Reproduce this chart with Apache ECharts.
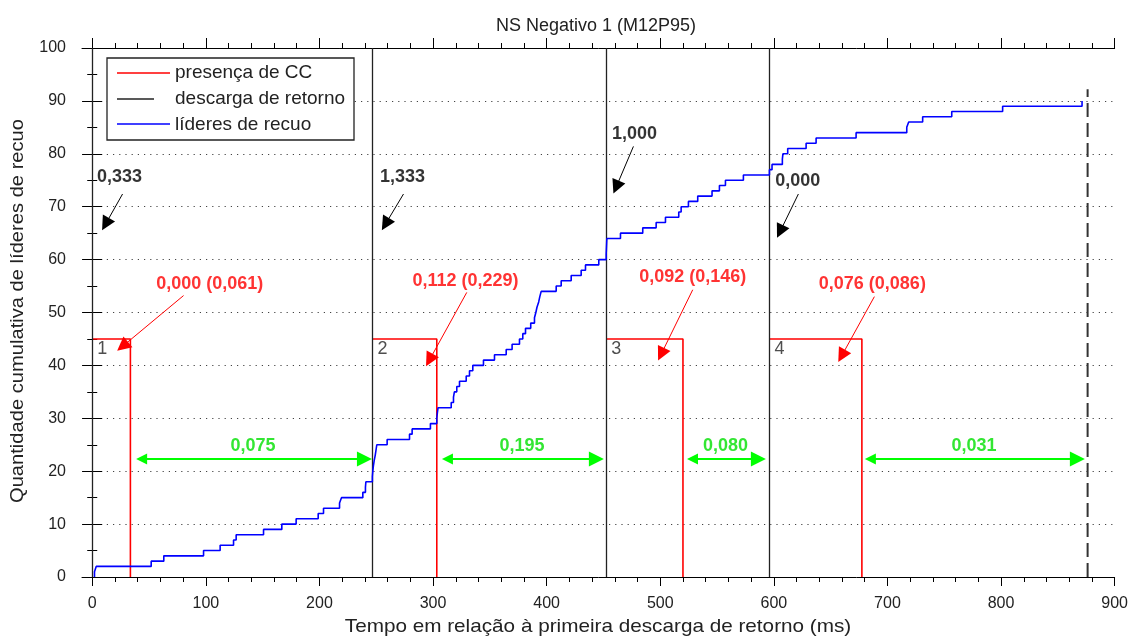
<!DOCTYPE html>
<html><head><meta charset="utf-8">
<script src="https://cdn.jsdelivr.net/npm/echarts@6/dist/echarts.min.js"></script>
<style>html,body{margin:0;padding:0;background:#fff}#c{width:1131px;height:637px}</style>
</head><body><div id="c"></div>
<script>
const chartTitle = 'NS Negativo 1 (M12P95)';
const xAxisTitle = 'Tempo em relação à primeira descarga de retorno (ms)';
const yAxisTitle = 'Quantidade cumulativa de líderes de recuo';
const legendNames = ['presença de CC', 'descarga de retorno', 'líderes de recuo'];

const xMajorTicks = [0, 100, 200, 300, 400, 500, 600, 700, 800, 900];
const xMinorTicks = [20, 40, 60, 80, 120, 140, 160, 180, 220, 240, 260, 280, 320, 340, 360, 380,
  420, 440, 460, 480, 520, 540, 560, 580, 620, 640, 660, 680, 720, 740, 760, 780, 820, 840, 860, 880];

// líderes de recuo: step times (ms) and cumulative counts
const leaderTimes = [2.0, 2.0, 3.5, 51.9, 63.0, 98.0, 112.6, 124.4, 126.7, 150.8,
  166.9, 179.5, 198.9, 203.6, 217.7, 219.4, 238.2, 240.5, 240.9, 246.6,
  247.0, 247.5, 248.2, 249.1, 249.8, 250.5, 259.6, 279.3, 281.6, 297.7,
  303.3, 303.8, 304.4, 316.0, 318.0, 318.8, 320.9, 323.3, 329.2, 332.1,
  335.0, 344.4, 354.1, 364.4, 369.6, 376.1, 379.0, 381.4, 386.0, 389.3,
  390.5, 391.5, 393.0, 394.0, 395.2, 408.4, 412.8, 421.6, 430.4, 434.2,
  445.9, 452.4, 452.6, 452.8, 453.0, 465.0, 484.6, 496.4, 504.6, 516.3,
  518.4, 524.8, 533.0, 545.6, 552.1, 557.4, 573.2, 596.1, 598.4, 607.5,
  608.0, 612.2, 628.4, 637.2, 672.4, 717.0, 718.7, 731.0, 756.6, 801.4,
  871.3];
const leaderCounts = [0, 1, 2, 3, 4, 5, 6, 7, 8, 9,
  10, 11, 12, 13, 14, 15, 16, 17, 18, 19,
  20, 21, 22, 23, 24, 25, 26, 27, 28, 29,
  30, 31, 32, 33, 34, 35, 36, 37, 38, 39,
  40, 41, 42, 43, 44, 45, 46, 47, 48, 49,
  50, 51, 52, 53, 54, 55, 56, 57, 58, 59,
  60, 61, 62, 63, 64, 65, 66, 67, 68, 69,
  70, 71, 72, 73, 74, 75, 76, 77, 78, 79,
  80, 81, 82, 83, 84, 85, 86, 87, 88, 89,
  90];

// descargas de retorno (ms)
const strokeTimes = [0, 246.6, 452.4, 596.1];
const strokeNumbers = ['1', '2', '3', '4'];
// presença de CC: end of CC for each stroke
const ccEndTimes = [33.6, 303.3, 520.0, 677.5];
const ccLevel = 45;
// final (dashed) marker
const endTime = 876.2;
const endTop = 92.2;

// green intervals
const intervalLabels = ['0,075', '0,195', '0,080', '0,031'];
const intervalFrom = [43.5, 312.7, 528.4, 685.0];
const intervalTo = [239.6, 443.8, 586.4, 867.2];
const intervalArrowY = 22.3;
const intervalLabelY = 24.8;

// red annotations
const ccLabels = ['0,000 (0,061)', '0,112 (0,229)', '0,092 (0,146)', '0,076 (0,086)'];
const ccLabelPos = [[103.4, 55.4], [328.6, 55.9], [528.6, 56.7], [686.7, 55.4]];
const ccArrowTail = [[80.4, 53.2], [329.7, 53.8], [528.6, 54.3], [688.5, 53.0]];
const ccArrowHead = [[26.7, 43.6], [296.8, 41.0], [500.8, 42.1], [659.7, 41.8]];

// black annotations
const rateLabels = ['0,333', '1,333', '1,000', '0,000'];
const rateLabelPos = [[24.0, 75.6], [273.1, 75.6], [477.3, 83.7], [621.0, 74.9]];
const rateArrowTail = [[26.7, 72.4], [274.0, 72.4], [476.4, 81.4], [621.6, 72.4]];
const rateArrowHead = [[11.7, 66.7], [258.1, 66.7], [461.2, 73.7], [605.5, 65.3]];

const FONT = '"Liberation Sans", Arial, Helvetica, sans-serif';
const X_MIN = -9, X_MAX = 900;

const chart = echarts.init(document.getElementById('c'), null, {renderer: 'canvas'});

const series = [];
// red CC boxes
strokeTimes.forEach((t, i) => {
  series.push({
    type: 'line', xAxisIndex: 0, yAxisIndex: 0, symbol: 'none', silent: true, z: 3,
    lineStyle: {color: '#ff0000', width: 1.6},
    data: [[t, ccLevel], [ccEndTimes[i], ccLevel], [ccEndTimes[i], 0]]
  });
});
// black stroke lines + dashed end marker
series.push({
  type: 'line', xAxisIndex: 0, yAxisIndex: 0, symbol: 'none', silent: true, z: 4,
  lineStyle: {color: '#333', width: 2, type: [14, 6]},
  data: [[endTime, 0], [endTime, endTop]],
  markLine: {
    silent: true, symbol: ['none', 'none'], animation: false,
    label: {show: false},
    lineStyle: {color: '#222', width: 1.3, type: 'solid'},
    data: strokeTimes.map(t => ({xAxis: t}))
  }
});
// blue step line
series.push({
  type: 'line', xAxisIndex: 0, yAxisIndex: 0, symbol: 'none', step: 'end', silent: true, z: 5,
  lineStyle: {color: '#0000ff', width: 1.6},
  data: leaderTimes.map((t, i) => [t, leaderCounts[i]])
});
// green interval arrows
series.push({
  type: 'lines', coordinateSystem: 'cartesian2d', xAxisIndex: 0, yAxisIndex: 0, silent: true, z: 6,
  symbol: ['triangle', 'triangle'], symbolSize: [11, 15],
  lineStyle: {color: '#00ff00', width: 2, opacity: 1},
  data: intervalFrom.map((f, i) => ({coords: [[f, intervalArrowY], [intervalTo[i], intervalArrowY]]}))
});
// red annotation arrows
series.push({
  type: 'lines', coordinateSystem: 'cartesian2d', xAxisIndex: 0, yAxisIndex: 0, silent: true, z: 6,
  symbol: ['none', 'triangle'], symbolSize: [10, 14],
  lineStyle: {color: '#ff0000', width: 1, opacity: 1},
  data: ccArrowTail.map((p, i) => ({coords: [p, ccArrowHead[i]]}))
});
// black annotation arrows
series.push({
  type: 'lines', coordinateSystem: 'cartesian2d', xAxisIndex: 0, yAxisIndex: 0, silent: true, z: 6,
  symbol: ['none', 'triangle'], symbolSize: [10, 14],
  lineStyle: {color: '#000', width: 1, opacity: 1},
  data: rateArrowTail.map((p, i) => ({coords: [p, rateArrowHead[i]]}))
});
function textSeries(names, positions, color, bold, align, size) {
  return {
    type: 'scatter', xAxisIndex: 0, yAxisIndex: 0, symbolSize: 0, silent: true, z: 7,
    itemStyle: {color: 'transparent'},
    label: {show: true, position: 'inside', formatter: p => p.name, color: color,
      fontSize: size, fontWeight: bold ? 'bold' : 'normal', fontFamily: FONT, align: align},
    data: names.map((n, i) => ({name: n, value: positions[i]}))
  };
}
series.push(textSeries(ccLabels, ccLabelPos, '#ff0000', true, 'center', 18));
series.push(textSeries(rateLabels, rateLabelPos, '#000', true, 'center', 18));
series.push(textSeries(intervalLabels, intervalFrom.map((f, i) => [(f + intervalTo[i]) / 2, intervalLabelY]), '#00e000', true, 'center', 18));
series.push(textSeries(strokeNumbers, strokeTimes.map(t => [t + 4.5, 43.0]), '#222', false, 'left', 18));

const axisLineStyle = {color: '#000', width: 1};
const option = {
  animation: false,
  backgroundColor: '#fff',
  grid: {left: 82, right: 16, top: 48, bottom: 60, containLabel: false},
  xAxis: [
    {type: 'value', min: X_MIN, max: X_MAX, position: 'bottom',
      axisLine: {show: true, lineStyle: axisLineStyle},
      axisTick: {show: true, customValues: xMajorTicks, length: 9, lineStyle: axisLineStyle},
      axisLabel: {show: true, customValues: xMajorTicks, fontSize: 16, color: '#222', fontFamily: FONT, margin: 19},
      splitLine: {show: false}},
    {type: 'value', min: X_MIN, max: X_MAX, position: 'bottom',
      axisLine: {show: false},
      axisTick: {show: true, customValues: xMinorTicks, length: 5, lineStyle: axisLineStyle},
      axisLabel: {show: false}, splitLine: {show: false}},
    {type: 'value', min: X_MIN, max: X_MAX, position: 'top',
      axisLine: {show: true, lineStyle: axisLineStyle},
      axisTick: {show: true, customValues: xMajorTicks, length: 10, lineStyle: axisLineStyle},
      axisLabel: {show: false}, splitLine: {show: false}},
    {type: 'value', min: X_MIN, max: X_MAX, position: 'top',
      axisLine: {show: false},
      axisTick: {show: true, customValues: xMinorTicks, length: 5, lineStyle: axisLineStyle},
      axisLabel: {show: false}, splitLine: {show: false}}
  ],
  yAxis: [
    {type: 'value', min: 0, max: 100, interval: 10, position: 'left',
      axisLine: {show: true, lineStyle: axisLineStyle},
      axisTick: {show: true, length: 10, lineStyle: axisLineStyle},
      minorTick: {show: true, splitNumber: 2, length: 5, lineStyle: axisLineStyle},
      axisLabel: {show: true, fontSize: 16, color: '#222', fontFamily: FONT, margin: 16},
      splitLine: {show: true, lineStyle: {color: '#444', width: 1.2, type: [1.2, 5]}}},
    {type: 'value', min: 0, max: 100, interval: 10, position: 'right',
      axisLine: {show: true, lineStyle: axisLineStyle},
      axisTick: {show: true, length: 10, lineStyle: axisLineStyle},
      minorTick: {show: true, splitNumber: 2, length: 5, lineStyle: axisLineStyle},
      axisLabel: {show: false}, splitLine: {show: false}}
  ],
  graphic: [
    {type: 'text', x: 596, y: 26, silent: true, z: 100,
      style: {text: chartTitle, fontSize: 18, fontFamily: FONT, fill: '#222', align: 'center', verticalAlign: 'middle'}},
    {type: 'text', x: 598, y: 627, scaleX: 1.09, silent: true, z: 100,
      style: {text: xAxisTitle, fontSize: 19, fontFamily: FONT, fill: '#222', align: 'center', verticalAlign: 'middle'}},
    {type: 'text', x: 18, y: 311, rotation: Math.PI / 2, scaleX: 1.06, silent: true, z: 100,
      style: {text: yAxisTitle, fontSize: 19, fontFamily: FONT, fill: '#222', align: 'center', verticalAlign: 'middle'}},
    {type: 'rect', z: 100, silent: true, shape: {x: 107, y: 58, width: 247, height: 82},
      style: {fill: '#fff', stroke: '#222', lineWidth: 1.3}},
    {type: 'line', z: 101, silent: true, shape: {x1: 117, y1: 73, x2: 170, y2: 73}, style: {stroke: '#ff0000', lineWidth: 1.5}},
    {type: 'line', z: 101, silent: true, shape: {x1: 117, y1: 99, x2: 154, y2: 99}, style: {stroke: '#222', lineWidth: 1.5}},
    {type: 'line', z: 101, silent: true, shape: {x1: 117, y1: 124, x2: 170, y2: 124}, style: {stroke: '#0000ff', lineWidth: 1.5}},
    {type: 'text', z: 101, silent: true, x: 175, y: 73, style: {text: legendNames[0], fontSize: 19, fontFamily: FONT, fill: '#222', align: 'left', verticalAlign: 'middle'}},
    {type: 'text', z: 101, silent: true, x: 175, y: 99, style: {text: legendNames[1], fontSize: 19, fontFamily: FONT, fill: '#222', align: 'left', verticalAlign: 'middle'}},
    {type: 'text', z: 101, silent: true, x: 175, y: 125, style: {text: legendNames[2], fontSize: 19, fontFamily: FONT, fill: '#222', align: 'left', verticalAlign: 'middle'}}
  ],
  series: series
};
chart.setOption(option);
</script>
</body></html>
